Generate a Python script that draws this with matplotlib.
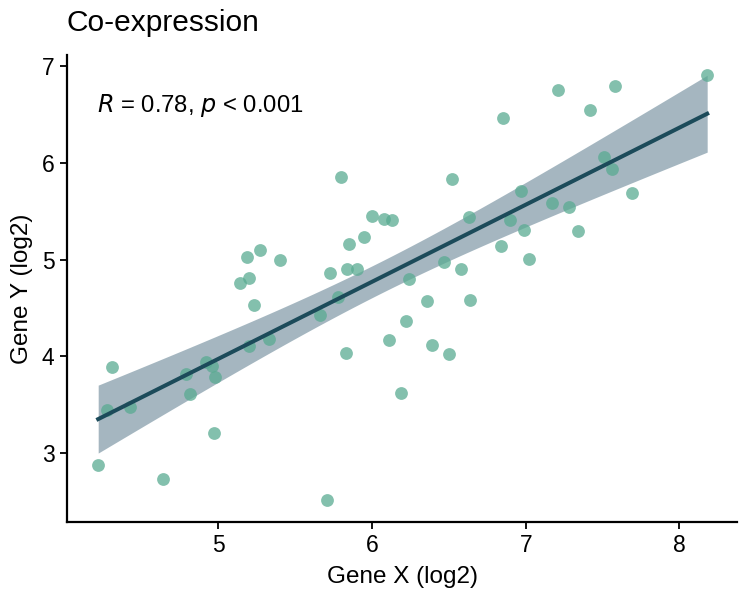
import numpy as np
import matplotlib.pyplot as plt

plt.rcParams['font.family'] = ['Liberation Sans', 'DejaVu Sans']

gene_x = [4.22, 4.28, 4.31, 4.43, 4.64, 4.79, 4.82, 4.92, 4.96, 4.98,
          4.97, 5.14, 5.20, 5.23, 5.20, 5.33, 5.19, 5.27, 5.40, 5.66,
          5.71, 5.73, 5.78, 5.80, 5.83, 5.84, 5.90, 5.85, 5.95, 6.00,
          6.08, 6.13, 6.11, 6.19, 6.22, 6.24, 6.36, 6.39, 6.47, 6.50,
          6.52, 6.58, 6.63, 6.64, 6.84, 6.85, 6.90, 6.97, 6.99, 7.02,
          7.17, 7.21, 7.28, 7.34, 7.42, 7.51, 7.56, 7.58, 7.69, 8.18]
gene_y = [2.88, 3.44, 3.89, 3.48, 2.73, 3.82, 3.61, 3.94, 3.90, 3.79,
          3.21, 4.76, 4.81, 4.53, 4.11, 4.18, 5.03, 5.10, 5.00, 4.43,
          2.51, 4.86, 4.61, 5.85, 4.03, 4.90, 4.90, 5.16, 5.23, 5.45,
          5.42, 5.41, 4.17, 3.62, 4.37, 4.80, 4.57, 4.12, 4.98, 4.02,
          5.83, 4.90, 5.44, 4.58, 5.14, 6.46, 5.41, 5.71, 5.31, 5.01,
          5.59, 6.75, 5.54, 5.30, 6.55, 6.06, 5.94, 6.80, 5.69, 6.91]

x = np.array(gene_x)
y = np.array(gene_y)

# linear fit with 95% confidence band
n = len(x)
slope, intercept = np.polyfit(x, y, 1)
xs = np.linspace(x.min(), x.max(), 100)
fit = slope * xs + intercept
resid = y - (slope * x + intercept)
s = np.sqrt(np.sum(resid ** 2) / (n - 2))
se = s * np.sqrt(1 / n + (xs - x.mean()) ** 2 / np.sum((x - x.mean()) ** 2))
t = 2.0017
r = np.corrcoef(x, y)[0, 1]

fig = plt.figure(figsize=(7.5, 6), dpi=100)
ax = fig.add_axes([0.0893, 0.13, 0.894, 0.778])

ax.fill_between(xs, fit - t * se, fit + t * se, color='#7f98a6', alpha=0.7,
                linewidth=0, zorder=2)
ax.scatter(x, y, s=85, color='#5aab92', alpha=0.75, linewidths=0, zorder=3)
ax.plot(xs, fit, color='#1c4b5a', linewidth=2.9, zorder=4)

ax.text(0.045, 0.893, r'$\it{R}$ = %.2f, $\it{p}$ < 0.001' % r,
        transform=ax.transAxes, fontsize=17.2, va='center', ha='left')

ax.set_xlim(4.017, 8.377)
ax.set_ylim(2.287, 7.114)
ax.set_xticks([5, 6, 7, 8])
ax.set_yticks([3, 4, 5, 6, 7])
ax.set_xlabel('Gene X (log2)', fontsize=17.5, labelpad=6)
ax.set_ylabel('Gene Y (log2)', fontsize=17.5, labelpad=6)
ax.tick_params(labelsize=16.5, length=5, width=1.3, pad=4, color='black')
for side in ['top', 'right']:
    ax.spines[side].set_visible(False)
for side in ['left', 'bottom']:
    ax.spines[side].set_linewidth(1.6)

fig.text(0.0893, 0.962, 'Co-expression', fontsize=21.5, ha='left', va='center')

fig.savefig('out.png', dpi=100)
